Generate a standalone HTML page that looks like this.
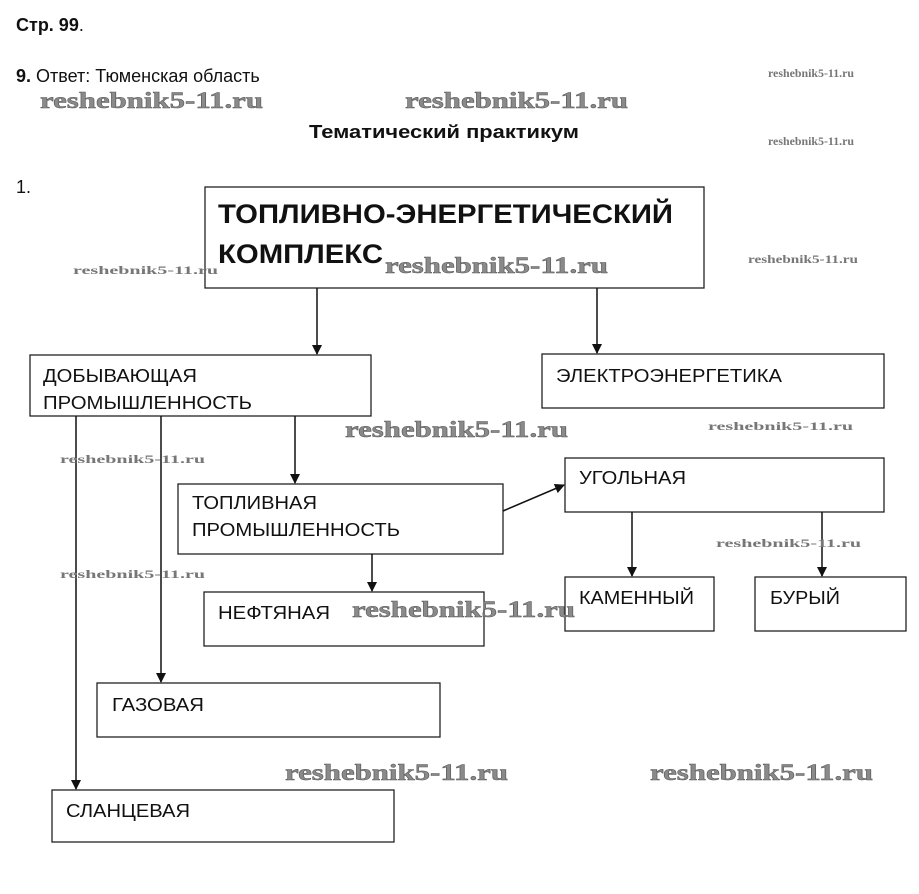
<!DOCTYPE html>
<html><head><meta charset="utf-8"><style>
html,body{margin:0;padding:0;background:#fff;}
svg{display:block;}
.t{font-family:"Liberation Sans",Arial,sans-serif;font-size:18px;fill:#111;}
.b{font-family:"Liberation Sans",Arial,sans-serif;font-weight:bold;fill:#111;}
.w{font-family:"Liberation Serif","DejaVu Serif",serif;font-weight:bold;fill:#8a8a8a;stroke:#555;stroke-width:0.5;}
.ws{font-family:"Liberation Serif","DejaVu Serif",serif;font-weight:bold;fill:#777;font-size:12px;}
rect{fill:#fff;stroke:#222;stroke-width:1.3;}
line{stroke:#111;stroke-width:1.5;}
</style></head><body>
<svg width="919" height="894" viewBox="0 0 919 894" xmlns="http://www.w3.org/2000/svg">
<defs><marker id="a" markerWidth="10" markerHeight="10" refX="9" refY="5" orient="auto" markerUnits="userSpaceOnUse"><path d="M0,0 L10,5 L0,10 z" fill="#111"/></marker></defs>

<text class="b" x="16" y="31" font-size="18">Стр. 99<tspan font-weight="normal">.</tspan></text>
<text class="t" x="16" y="82"><tspan font-weight="bold">9.</tspan> Ответ: Тюменская область</text>
<text class="b" x="309" y="138" font-size="18" textLength="270" lengthAdjust="spacingAndGlyphs">Тематический практикум</text>
<text class="t" x="16" y="193">1.</text>

<!-- boxes -->
<rect x="205" y="187" width="499" height="101"/>
<rect x="30" y="355" width="341" height="61"/>
<rect x="542" y="354" width="342" height="54"/>
<rect x="178" y="484" width="325" height="70"/>
<rect x="565" y="458" width="319" height="54"/>
<rect x="204" y="592" width="280" height="54"/>
<rect x="565" y="577" width="149" height="54"/>
<rect x="755" y="577" width="151" height="54"/>
<rect x="97" y="683" width="343" height="54"/>
<rect x="52" y="790" width="342" height="52"/>

<!-- lines -->
<line x1="317" y1="288" x2="317" y2="354" marker-end="url(#a)"/>
<line x1="597" y1="288" x2="597" y2="353" marker-end="url(#a)"/>
<line x1="295" y1="416" x2="295" y2="483" marker-end="url(#a)"/>
<line x1="161" y1="416" x2="161" y2="682" marker-end="url(#a)"/>
<line x1="76" y1="416" x2="76" y2="789" marker-end="url(#a)"/>
<line x1="372" y1="554" x2="372" y2="591" marker-end="url(#a)"/>
<line x1="503" y1="511" x2="564" y2="485" marker-end="url(#a)"/>
<line x1="632" y1="512" x2="632" y2="576" marker-end="url(#a)"/>
<line x1="822" y1="512" x2="822" y2="576" marker-end="url(#a)"/>

<!-- labels -->
<text class="b" x="218" y="223" font-size="27" textLength="455" lengthAdjust="spacingAndGlyphs">ТОПЛИВНО-ЭНЕРГЕТИЧЕСКИЙ</text>
<text class="b" x="218" y="263" font-size="27" textLength="165" lengthAdjust="spacingAndGlyphs">КОМПЛЕКС</text>
<text class="t" x="43" y="382" textLength="154" lengthAdjust="spacingAndGlyphs">ДОБЫВАЮЩАЯ</text>
<text class="t" x="43" y="409" textLength="209" lengthAdjust="spacingAndGlyphs">ПРОМЫШЛЕННОСТЬ</text>
<text class="t" x="556" y="382" textLength="226" lengthAdjust="spacingAndGlyphs">ЭЛЕКТРОЭНЕРГЕТИКА</text>
<text class="t" x="192" y="509" textLength="125" lengthAdjust="spacingAndGlyphs">ТОПЛИВНАЯ</text>
<text class="t" x="192" y="536" textLength="208" lengthAdjust="spacingAndGlyphs">ПРОМЫШЛЕННОСТЬ</text>
<text class="t" x="579" y="484" textLength="107" lengthAdjust="spacingAndGlyphs">УГОЛЬНАЯ</text>
<text class="t" x="218" y="619" textLength="112" lengthAdjust="spacingAndGlyphs">НЕФТЯНАЯ</text>
<text class="t" x="579" y="604" textLength="115" lengthAdjust="spacingAndGlyphs">КАМЕННЫЙ</text>
<text class="t" x="770" y="604" textLength="70" lengthAdjust="spacingAndGlyphs">БУРЫЙ</text>
<text class="t" x="112" y="711" textLength="92" lengthAdjust="spacingAndGlyphs">ГАЗОВАЯ</text>
<text class="t" x="66" y="817" textLength="124" lengthAdjust="spacingAndGlyphs">СЛАНЦЕВАЯ</text>

<!-- watermarks -->
<g font-size="23">
<text class="w" x="40" y="108" textLength="223" lengthAdjust="spacingAndGlyphs">reshebnik5-11.ru</text>
<text class="w" x="405" y="108" textLength="223" lengthAdjust="spacingAndGlyphs">reshebnik5-11.ru</text>
<text class="w" x="385" y="273" textLength="223" lengthAdjust="spacingAndGlyphs">reshebnik5-11.ru</text>
<text class="w" x="345" y="437" textLength="223" lengthAdjust="spacingAndGlyphs">reshebnik5-11.ru</text>
<text class="w" x="352" y="617" textLength="223" lengthAdjust="spacingAndGlyphs">reshebnik5-11.ru</text>
<text class="w" x="285" y="780" textLength="223" lengthAdjust="spacingAndGlyphs">reshebnik5-11.ru</text>
<text class="w" x="650" y="780" textLength="223" lengthAdjust="spacingAndGlyphs">reshebnik5-11.ru</text>
</g>
<text class="ws" x="768" y="77" font-size="10" textLength="86" lengthAdjust="spacingAndGlyphs">reshebnik5-11.ru</text>
<text class="ws" x="768" y="145" font-size="10" textLength="86" lengthAdjust="spacingAndGlyphs">reshebnik5-11.ru</text>
<text class="ws" x="73" y="274" font-size="14" textLength="145" lengthAdjust="spacingAndGlyphs">reshebnik5-11.ru</text>
<text class="ws" x="748" y="263" font-size="13" textLength="110" lengthAdjust="spacingAndGlyphs">reshebnik5-11.ru</text>
<text class="ws" x="708" y="430" font-size="14" textLength="145" lengthAdjust="spacingAndGlyphs">reshebnik5-11.ru</text>
<text class="ws" x="60" y="463" font-size="14" textLength="145" lengthAdjust="spacingAndGlyphs">reshebnik5-11.ru</text>
<text class="ws" x="60" y="578" font-size="14" textLength="145" lengthAdjust="spacingAndGlyphs">reshebnik5-11.ru</text>
<text class="ws" x="716" y="547" font-size="14" textLength="145" lengthAdjust="spacingAndGlyphs">reshebnik5-11.ru</text>
</svg>
</body></html>
